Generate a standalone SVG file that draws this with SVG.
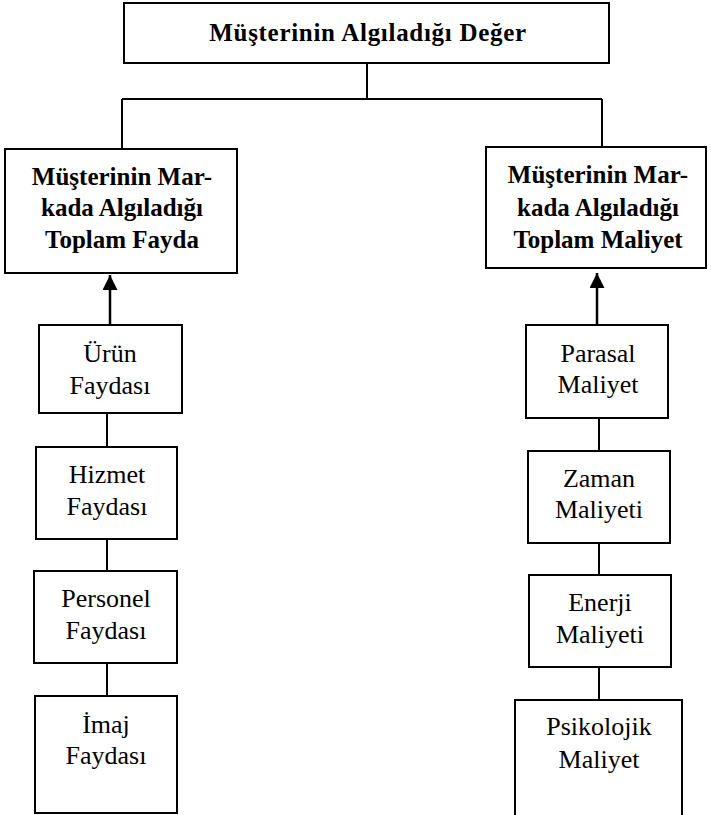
<svg xmlns="http://www.w3.org/2000/svg" width="711" height="815" viewBox="0 0 711 815">
<style>
.box{fill:#fff;stroke:#000;stroke-width:2}
.ln{fill:none;stroke:#000;stroke-width:2}
.ar{fill:none;stroke:#000;stroke-width:2.5}
text{font-family:"Liberation Serif","Times New Roman",serif;fill:#000;text-anchor:middle}
.b{font-weight:bold;font-size:25px}
.r{font-size:26px}
</style>
<defs>
<marker id="ah" viewBox="0 0 10 10" refX="10" refY="5" markerWidth="6" markerHeight="6" markerUnits="strokeWidth" orient="auto">
<path d="M0,0 L10,5 L0,10 z" fill="#000"/>
</marker>
</defs>
<g id="connectors">
<path class="ln" d="M367,63 V99 M122,99 H602 M122,99 V149 M602,99 V147"/>
<path class="ar" d="M110,325 V275" marker-end="url(#ah)"/>
<path class="ar" d="M597,325 V273" marker-end="url(#ah)"/>
<path class="ln" d="M107,413 V447 M107,539 V571 M107,663 V696"/>
<path class="ln" d="M599,418 V451 M599,543 V575 M599,667 V700"/>
</g>
<g id="n-deger">
<rect class="box" x="124" y="3" width="485" height="60"/>
<text class="b" x="368" y="41" style="letter-spacing:0.7px">Müşterinin Algıladığı Değer</text>
</g>
<g id="n-fayda">
<rect class="box" x="5" y="149" width="232" height="124"/>
<text class="b" x="122" y="185">Müşterinin Mar-</text>
<text class="b" x="122" y="216">kada Algıladığı</text>
<text class="b" x="122" y="248">Toplam Fayda</text>
</g>
<g id="n-maliyet">
<rect class="box" x="486" y="147" width="220" height="121"/>
<text class="b" x="598" y="183">Müşterinin Mar-</text>
<text class="b" x="598" y="216">kada Algıladığı</text>
<text class="b" x="598" y="248">Toplam Maliyet</text>
</g>
<g id="n-urun">
<rect class="box" x="39" y="325" width="143" height="88"/>
<text class="r" x="110" y="362">Ürün</text>
<text class="r" x="110" y="394">Faydası</text>
</g>
<g id="n-hizmet">
<rect class="box" x="36" y="447" width="141" height="92"/>
<text class="r" x="107" y="483">Hizmet</text>
<text class="r" x="107" y="515">Faydası</text>
</g>
<g id="n-personel">
<rect class="box" x="34" y="571" width="143" height="92"/>
<text class="r" x="106" y="607">Personel</text>
<text class="r" x="106" y="639">Faydası</text>
</g>
<g id="n-imaj">
<rect class="box" x="35" y="696" width="142" height="117"/>
<text class="r" x="106" y="733">İmaj</text>
<text class="r" x="106" y="764">Faydası</text>
</g>
<g id="n-parasal">
<rect class="box" x="526" y="325" width="142" height="93"/>
<text class="r" x="598" y="362">Parasal</text>
<text class="r" x="598" y="393">Maliyet</text>
</g>
<g id="n-zaman">
<rect class="box" x="528" y="451" width="142" height="92"/>
<text class="r" x="599" y="487">Zaman</text>
<text class="r" x="599" y="518">Maliyeti</text>
</g>
<g id="n-enerji">
<rect class="box" x="529" y="575" width="142" height="92"/>
<text class="r" x="600" y="611">Enerji</text>
<text class="r" x="600" y="643">Maliyeti</text>
</g>
<g id="n-psikolojik">
<rect class="box" x="515" y="700" width="167" height="130"/>
<text class="r" x="599" y="735">Psikolojik</text>
<text class="r" x="599" y="768">Maliyet</text>
</g>
</svg>
